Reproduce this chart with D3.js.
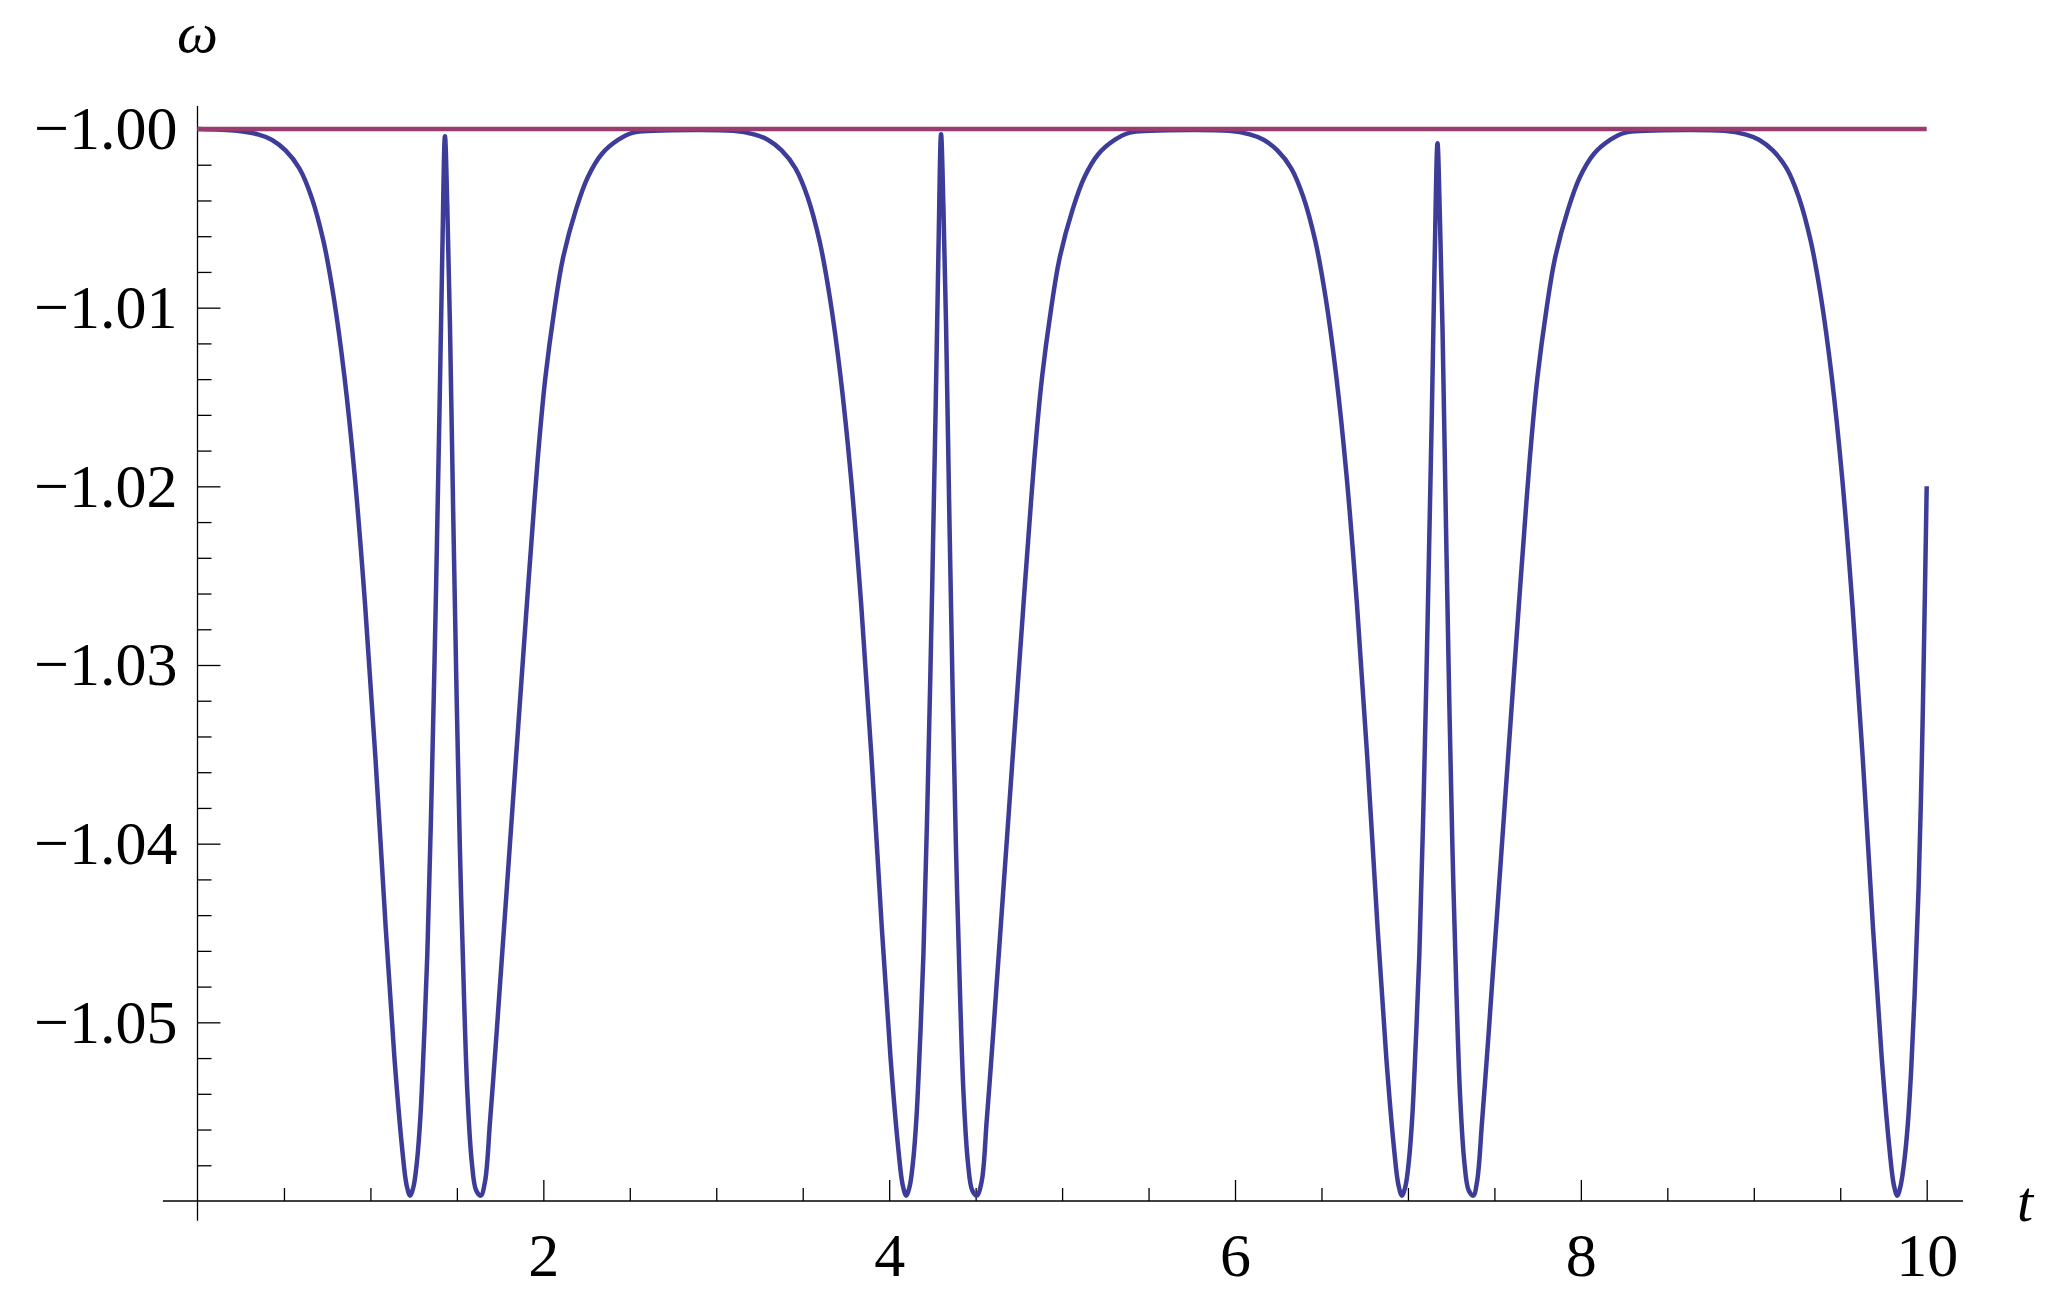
<!DOCTYPE html>
<html>
<head>
<meta charset="utf-8">
<script src="https://cdn.jsdelivr.net/npm/d3@7"></script>
<style>
  html, body { margin: 0; padding: 0; background: #fff; }
  svg { display: block; }
</style>
</head>
<body>
<svg id="chart"></svg>
<script>
// omega(t), one row block per cycle
var omegaT = [
  0.000, 0.229, 0.349, 0.429, 0.509, 0.589, 0.659, 0.729, 0.789, 0.849, 0.909, 0.969, 1.029, 1.089, 1.139, 1.184, 1.209, 1.229,
  1.249, 1.269, 1.289, 1.309, 1.329, 1.354, 1.379, 1.399, 1.416, 1.431,
  1.445, 1.460, 1.480, 1.499, 1.518, 1.541, 1.561, 1.586, 1.611, 1.638,
  1.663, 1.692, 1.723, 1.750, 1.807, 1.855, 1.904, 1.948, 1.977, 2.012, 2.064, 2.112, 2.189, 2.257, 2.338, 2.434, 2.520, 2.636,

  3.098, 3.218, 3.298, 3.378, 3.458, 3.528, 3.598, 3.658, 3.718, 3.778, 3.838, 3.898, 3.958, 4.008, 4.053, 4.078, 4.098,
  4.118, 4.138, 4.158, 4.178, 4.198, 4.223, 4.248, 4.268, 4.285, 4.300,
  4.314, 4.329, 4.349, 4.368, 4.387, 4.410, 4.430, 4.455, 4.480, 4.507,
  4.535, 4.564, 4.595, 4.622, 4.679, 4.727, 4.776, 4.820, 4.849, 4.884, 4.936, 4.984, 5.061, 5.129, 5.210, 5.306, 5.392, 5.508,

  5.965, 6.085, 6.165, 6.245, 6.325, 6.395, 6.465, 6.525, 6.585, 6.645, 6.705, 6.765, 6.825, 6.875, 6.920, 6.945, 6.965,
  6.985, 7.005, 7.025, 7.045, 7.066, 7.092, 7.117, 7.138, 7.155, 7.171,
  7.185, 7.200, 7.220, 7.239, 7.258, 7.281, 7.301, 7.326, 7.351, 7.378,
  7.400, 7.429, 7.460, 7.487, 7.544, 7.592, 7.641, 7.685, 7.714, 7.749, 7.801, 7.849, 7.926, 7.994, 8.075, 8.171, 8.257, 8.373,

  8.830, 8.950, 9.030, 9.110, 9.190, 9.260, 9.330, 9.390, 9.450, 9.510, 9.570, 9.630, 9.690, 9.740, 9.785, 9.810, 9.830,
  9.850, 9.870, 9.890, 9.910, 9.930, 9.953, 9.972, 9.986, 10.000]
var omegaW = [
  -1.0000, -1.0001, -1.0003, -1.0006, -1.0012, -1.0022, -1.0038, -1.0063, -1.0095, -1.0138, -1.0194, -1.0266, -1.0352, -1.0448, -1.0520, -1.0571, -1.0591, -1.0597,
  -1.0592, -1.0578, -1.0553, -1.0512, -1.0462, -1.0370, -1.0260, -1.0160, -1.0068, -1.0004,
  -1.0045, -1.0110, -1.0222, -1.0320, -1.0405, -1.0485, -1.0540, -1.0578, -1.0594, -1.0597,
  -1.0589, -1.0555, -1.0515, -1.0478, -1.0400, -1.0334, -1.0267, -1.0209, -1.0174, -1.0139, -1.0101, -1.0073, -1.0045, -1.0027, -1.0014, -1.0006, -1.0002, -1.0001,

  -1.0001, -1.0003, -1.0006, -1.0012, -1.0022, -1.0038, -1.0063, -1.0095, -1.0138, -1.0194, -1.0266, -1.0352, -1.0448, -1.0520, -1.0571, -1.0591, -1.0597,
  -1.0592, -1.0578, -1.0553, -1.0512, -1.0462, -1.0370, -1.0260, -1.0160, -1.0068, -1.0003,
  -1.0045, -1.0110, -1.0222, -1.0320, -1.0405, -1.0485, -1.0540, -1.0578, -1.0594, -1.0597,
  -1.0589, -1.0555, -1.0515, -1.0478, -1.0400, -1.0334, -1.0267, -1.0209, -1.0174, -1.0139, -1.0101, -1.0073, -1.0045, -1.0027, -1.0014, -1.0006, -1.0002, -1.0001,

  -1.0001, -1.0003, -1.0006, -1.0012, -1.0022, -1.0038, -1.0063, -1.0095, -1.0138, -1.0194, -1.0266, -1.0352, -1.0448, -1.0520, -1.0571, -1.0591, -1.0597,
  -1.0592, -1.0578, -1.0553, -1.0512, -1.0462, -1.0370, -1.0260, -1.0160, -1.0070, -1.0008,
  -1.0050, -1.0112, -1.0222, -1.0320, -1.0405, -1.0485, -1.0540, -1.0578, -1.0594, -1.0597,
  -1.0589, -1.0555, -1.0515, -1.0478, -1.0400, -1.0334, -1.0267, -1.0209, -1.0174, -1.0139, -1.0101, -1.0073, -1.0045, -1.0027, -1.0014, -1.0006, -1.0002, -1.0001,

  -1.0001, -1.0003, -1.0006, -1.0012, -1.0022, -1.0038, -1.0063, -1.0095, -1.0138, -1.0194, -1.0266, -1.0352, -1.0448, -1.0520, -1.0571, -1.0591, -1.0597,
  -1.0591, -1.0578, -1.0558, -1.0527, -1.0485, -1.0425, -1.0352, -1.0280, -1.0200]

// the constant w = -1 line
var refT = [0, 10]
var refW = [-1, -1]

var xMajorTicks = [2, 4, 6, 8, 10]
var xMinorTicks = [0.5, 1, 1.5, 2.5, 3, 3.5, 4.5, 5, 5.5, 6.5, 7, 7.5, 8.5, 9, 9.5]
var yMajorTicks = [-1.05, -1.04, -1.03, -1.02, -1.01, -1.00]
var yMinorTicks = [-1.058, -1.056, -1.054, -1.052, -1.048, -1.046, -1.044, -1.042,
  -1.038, -1.036, -1.034, -1.032, -1.028, -1.026, -1.024, -1.022,
  -1.018, -1.016, -1.014, -1.012, -1.008, -1.006, -1.004, -1.002]

var w = 2068, h = 1304
var font = "'Liberation Serif', 'Times New Roman', serif"

var svg = d3.select("#chart").attr("width", w).attr("height", h)

var x = d3.scaleLinear().domain([0, 10]).range([197.5, 1926.7])
var y = d3.scaleLinear().domain([-1.06, -1.00]).range([1201, 129])

// axis lines (Mathematica style, running a bit past the origin)
svg.append("line")
  .attr("x1", x(-0.2)).attr("x2", x(10.21))
  .attr("y1", y(-1.06)).attr("y2", y(-1.06))
  .attr("stroke", "#000").attr("stroke-width", 1.3)
svg.append("line")
  .attr("x1", x(0)).attr("x2", x(0))
  .attr("y1", y(-1.0611)).attr("y2", y(-0.99871))
  .attr("stroke", "#000").attr("stroke-width", 1.3)

function styleAxis(g) {
  g.select(".domain").remove()
  g.attr("font-family", font).attr("font-size", 62)
  g.selectAll("line").attr("stroke", "#000").attr("stroke-width", 1.3)
  g.selectAll("text").attr("fill", "#000")
}

svg.append("g")
  .attr("transform", `translate(0,${y(-1.06)})`)
  .call(d3.axisBottom(x).tickValues(xMinorTicks).tickSizeInner(-13).tickSizeOuter(0).tickFormat(""))
  .call(styleAxis)
svg.append("g")
  .attr("transform", `translate(0,${y(-1.06)})`)
  .call(d3.axisBottom(x).tickValues(xMajorTicks).tickSizeInner(-21).tickSizeOuter(0)
    .tickPadding(31).tickFormat(d3.format("d")))
  .call(styleAxis)

svg.append("g")
  .attr("transform", `translate(${x(0)},0)`)
  .call(d3.axisLeft(y).tickValues(yMinorTicks).tickSizeInner(-14).tickSizeOuter(0).tickFormat(""))
  .call(styleAxis)
svg.append("g")
  .attr("transform", `translate(${x(0)},0)`)
  .call(d3.axisLeft(y).tickValues(yMajorTicks).tickSizeInner(-23).tickSizeOuter(0)
    .tickPadding(20).tickFormat(d3.format(".2f")))
  .call(styleAxis)

// axis labels
svg.append("text")
  .attr("x", x(0)).attr("y", 52)
  .attr("text-anchor", "middle")
  .attr("font-family", font).attr("font-style", "italic").attr("font-size", 58)
  .text("ω")
svg.append("text")
  .attr("x", 2025).attr("y", 1221)
  .attr("text-anchor", "middle")
  .attr("font-family", font).attr("font-style", "italic").attr("font-size", 58)
  .text("t")

var line = d3.line()
  .x(d => x(d[0]))
  .y(d => y(d[1]))
  .curve(d3.curveCatmullRom.alpha(0.5))

var omegaData = omegaT.map((t, i) => [t, omegaW[i]])
var refData = refT.map((t, i) => [t, refW[i]])

svg.append("path")
  .datum(omegaData)
  .attr("d", line)
  .attr("fill", "none")
  .attr("stroke", "#3d3d99")
  .attr("stroke-width", 4.5)
  .attr("stroke-linejoin", "round")

svg.append("path")
  .datum(refData)
  .attr("d", line)
  .attr("fill", "none")
  .attr("stroke", "#993d71")
  .attr("stroke-width", 4.5)
</script>
</body>
</html>
